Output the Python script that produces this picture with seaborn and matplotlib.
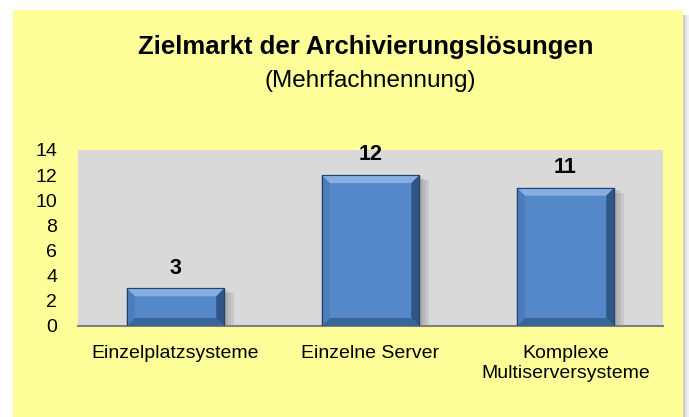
import matplotlib
matplotlib.use("Agg")
import matplotlib.pyplot as plt
import matplotlib.patheffects as pe
from matplotlib.patches import Rectangle, Polygon
import seaborn as sns

# data
categories = ["Einzelplatzsysteme", "Einzelne Server", "Komplexe\nMultiserversysteme"]
values = [3, 12, 11]
y_ticks = [0, 2, 4, 6, 8, 10, 12, 14]
title = "Zielmarkt der Archivierungslösungen"
subtitle = "(Mehrfachnennung)"

sns.set_theme(style="white")
plt.rcParams["font.family"] = ["Liberation Sans", "DejaVu Sans"]
plt.rcParams["text.color"] = "black"

W, H = 689, 417
fig = plt.figure(figsize=(W / 100, H / 100), dpi=100)
fig.patch.set_facecolor("white")

# yellow panel with a soft shadow on the right
for i, a in enumerate([0.35, 0.2, 0.1]):
    fig.patches.append(Rectangle(((683 + 2 * i) / W, 0), 2 / W, 1 - 15 / H,
                                 transform=fig.transFigure, facecolor="#707070",
                                 alpha=a, edgecolor="none", zorder=-10))
fig.patches.append(Rectangle((13 / W, 0), (683 - 13) / W, 1 - 10 / H,
                             transform=fig.transFigure, facecolor="#FFFF99",
                             edgecolor="none", zorder=-10))

fig.text(365.5 / W, 1 - 54 / H, title, ha="center", va="baseline",
         fontsize=18.5, fontweight="bold", color="black")
fig.text(370 / W, 1 - 87 / H, subtitle, ha="center", va="baseline",
         fontsize=17.5, color="black")

ax_l, ax_r, ax_t, ax_b = 78, 663, 150, 326
ax = fig.add_axes([ax_l / W, 1 - ax_b / H, (ax_r - ax_l) / W, (ax_b - ax_t) / H])
ax.set_facecolor("#D9D9D9")
ax.set_zorder(1)

sns.barplot(x=categories, y=values, color="#5588C8", saturation=1, width=0.5,
            edgecolor="#23426B", linewidth=0.8, ax=ax)

ax.set_xlim(-0.5, 2.5)
ax.set_ylim(0, 14)
ax.set_yticks(y_ticks)
ax.set_xticks([-0.5, 0.5, 1.5, 2.5], minor=True)
ax.tick_params(axis="y", length=0, pad=15, labelsize=14, colors="black")
ax.tick_params(axis="x", which="major", length=0, pad=14, labelsize=14, colors="black")
ax.tick_params(axis="x", which="minor", length=5, width=1, color="#808080", direction="out")
ax.set_xlabel("")
ax.set_ylabel("")
for s in ["left", "right", "top"]:
    ax.spines[s].set_visible(False)
ax.spines["bottom"].set_color("#808080")
ax.spines["bottom"].set_linewidth(1.5)

# bevel look on the bars, soft shadow to the right
bx = 8 * 3 / (ax_r - ax_l)
by = 8 * 14 / (ax_b - ax_t)
shadow = [pe.SimplePatchShadow(offset=(k, -k / 2), shadow_rgbFace="#555555", alpha=0.12)
          for k in (7, 5, 3, 1)]
for p in ax.patches:
    p.set_path_effects(shadow + [pe.Normal()])
    x0, w, h = p.get_x(), p.get_width(), p.get_height()
    x1 = x0 + w
    ax.add_patch(Polygon([(x0, h), (x1, h), (x1 - bx, h - by), (x0 + bx, h - by)],
                         facecolor="#86AEE0", edgecolor="none", zorder=3))
    ax.add_patch(Polygon([(x1, h), (x1, 0), (x1 - bx, by), (x1 - bx, h - by)],
                         facecolor="#2F5685", edgecolor="none", zorder=3))
    ax.add_patch(Polygon([(x0, 0), (x1, 0), (x1 - bx, by), (x0 + bx, by)],
                         facecolor="#3B6498", edgecolor="none", zorder=3))
    ax.add_patch(Polygon([(x0, 0), (x0, h), (x0 + bx, h - by), (x0 + bx, by)],
                         facecolor="#4C7DBB", edgecolor="none", zorder=3))
    ax.add_patch(Rectangle((x0, 0), w, h, facecolor="none", edgecolor="#23426B",
                           linewidth=0.8, zorder=4))

ax.bar_label(ax.containers[0], fmt="%d", padding=7, fontsize=15.5,
             fontweight="bold", color="black")

fig.savefig("out.png", dpi=100)
